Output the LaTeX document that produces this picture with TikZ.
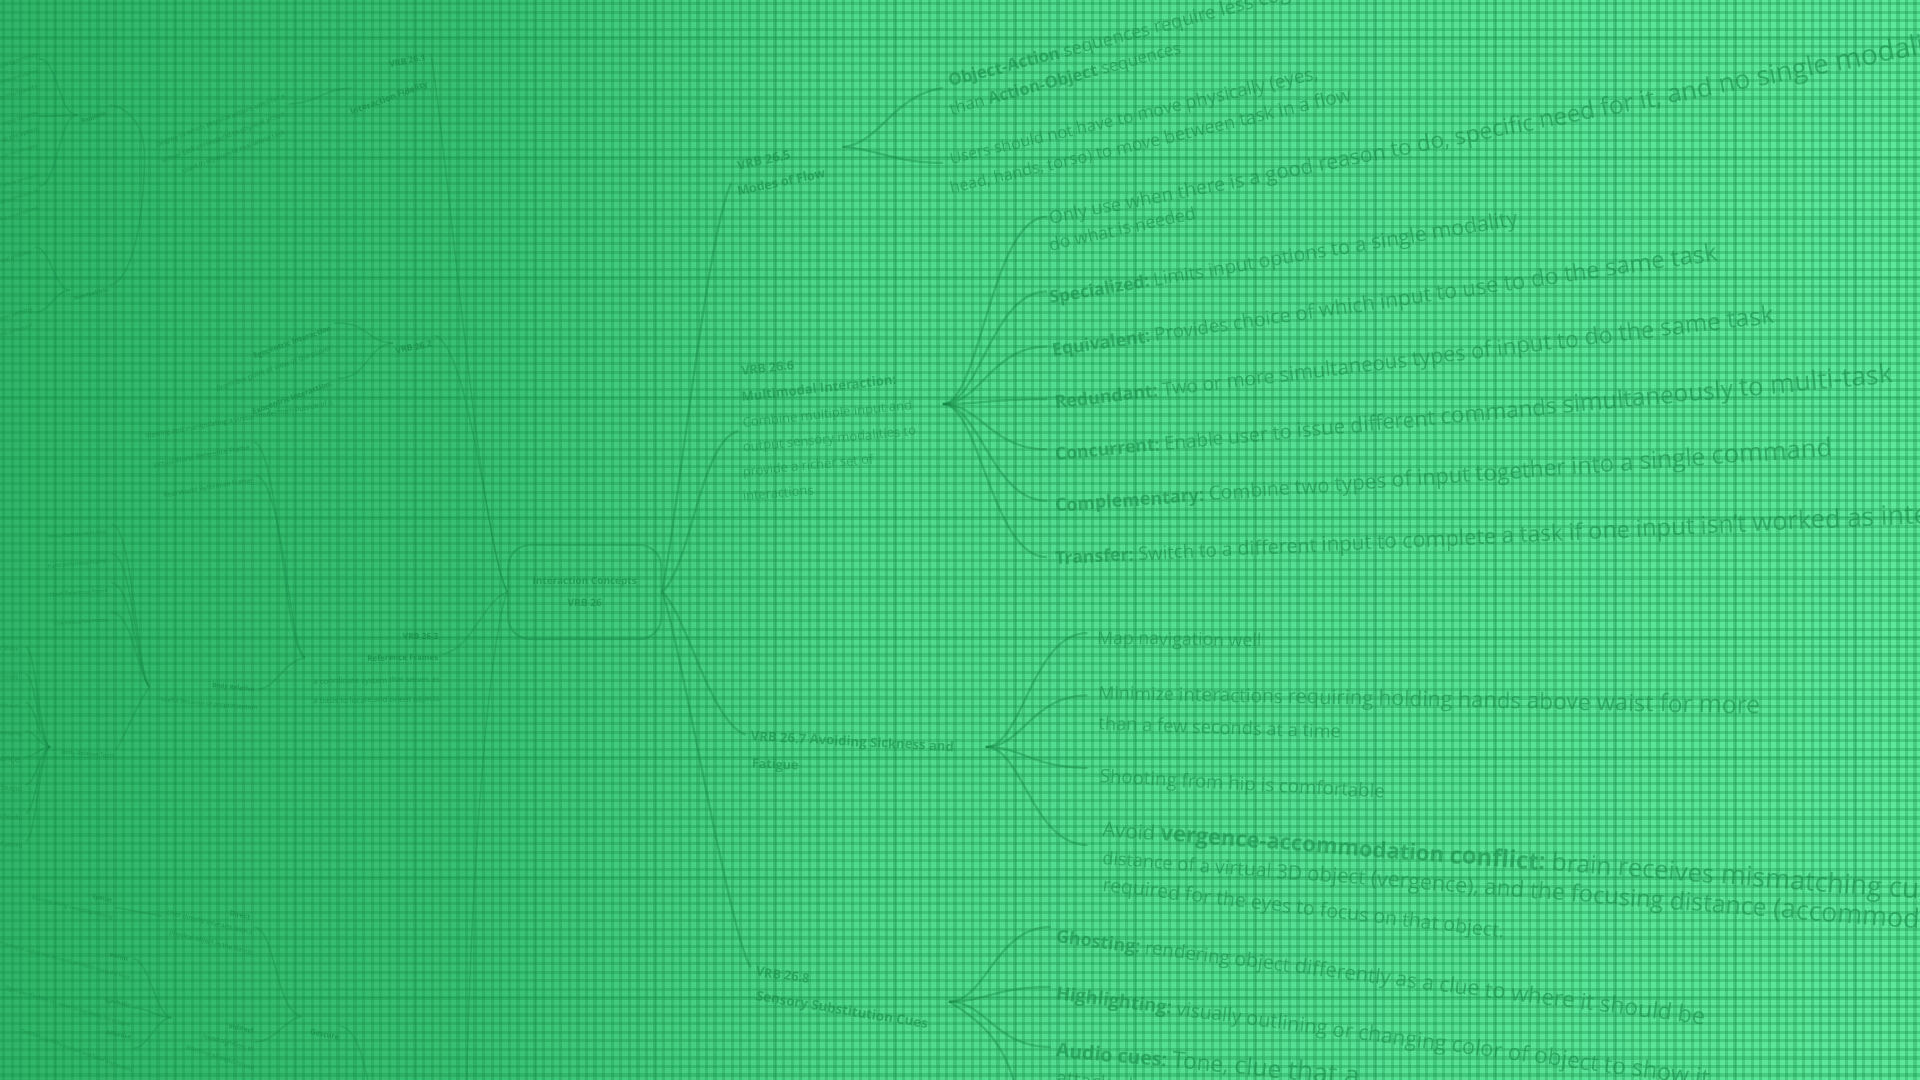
\documentclass[tikz,border=0pt]{standalone}
\usepackage{fontspec}
\setmainfont{Open Sans}
\usepackage{graphicx}
\definecolor{tcol}{RGB}{22,138,72}
\definecolor{gcol}{RGB}{20,140,72}
\definecolor{bga}{RGB}{49,182,105}
\definecolor{bgb}{RGB}{56,192,114}
\definecolor{bgc}{RGB}{81,218,141}
\definecolor{bgd}{RGB}{93,231,155}
\newlength{\unitpx}\setlength{\unitpx}{0.5pt}
\newdimen\pwidd \newdimen\palld \newdimen\pcumd
\newcommand{\rtx}[6][tx]{\node[#1,rotate=#4,anchor=base west] (#2) at (#3) {\resizebox{#5\unitpx}{!}{#6}};}
\newcommand{\ltx}[6][txl]{\node[#1,rotate=#4,anchor=base east] (#2) at (#3) {\resizebox{#5\unitpx}{!}{#6}};}
% line whose words grow steadily (perspective): style, name, start, angle, length, growth ratio, words
\newcommand{\pline}[7][tx]{%
  \pgfinterruptpicture
  \global\palld=0pt
  \foreach \w [count=\i] in {#7}{\settowidth{\pwidd}{\normalfont\w\ }\expandafter\xdef\csname pw@\i\endcsname{\the\pwidd}\global\advance\palld by \pwidd}%
  \endpgfinterruptpicture
  \pgfmathsetmacro{\pzero}{(#5*0.5)/(\the\palld)/(((#6)-1)/ln(#6))}%
  \global\pcumd=0pt
  \foreach \w [count=\i] in {#7}{%
    \pwidd=\csname pw@\i\endcsname\relax
    \pgfmathsetmacro{\psc}{\pzero*pow(#6,(\the\pcumd+0.5*\the\pwidd)/(\the\palld))}%
    \ifnum\i=1
      \node[#1,rotate=#4,anchor=base west] (#2-\i) at (#3) {\scalebox{\psc}{\w\ }};%
    \else
      \pgfmathtruncatemacro{\pj}{\i-1}%
      \node[#1,rotate=#4,anchor=base west] (#2-\i) at (#2-\pj.base east) {\scalebox{\psc}{\w\ }};%
    \fi
    \global\advance\pcumd by \pwidd
  }%
}
\begin{document}
\begin{tikzpicture}[x=0.5pt,y=-0.5pt,
  tx/.style={inner sep=0pt,outer sep=0pt,text=tcol,text opacity=.56},
  txl/.style={inner sep=0pt,outer sep=0pt,text=tcol,text opacity=.7},
  conn/.style={draw=tcol,draw opacity=.42,line width=.9pt},
  connl/.style={draw=tcol,draw opacity=.36,line width=.6pt},
  gridl/.style={draw=gcol,draw opacity=.3,line width=1.35pt},
  majl/.style={draw=gcol,draw opacity=.3,line width=.4pt}]
\useasboundingbox (0,0) rectangle (1568,882);
\clip (0,0) rectangle (1568,882);
% background
\shade[left color=bga,right color=bgb] (0,0) rectangle (381,882);
\shade[left color=bgb,right color=bgc] (380,0) rectangle (701,882);
\shade[left color=bgc,right color=bgd] (700,0) rectangle (1568,882);
% grid
\foreach \x in {3,10,...,1568} \draw[gridl] (\x,0) -- (\x,882);
\foreach \y in {3,10,...,882} \draw[gridl] (0,\y) -- (1568,\y);
\foreach \x in {45,143,...,1568} \draw[majl] (\x,0) -- (\x,882);
\foreach \y in {31,129,...,882} \draw[majl] (0,\y) -- (1568,\y);

% ---------- centre ----------
\node[draw=tcol,draw opacity=.4,line width=.8pt,rounded corners=9pt,minimum width=62.5pt,minimum height=38.5pt,inner sep=0pt,align=center,text=tcol,text opacity=.62,font=\fontsize{6}{9}\selectfont] (cc) at (477.5,483.5) {\resizebox{42.5pt}{!}{\textbf{Interaction Concepts}}\\\resizebox{14pt}{!}{\textbf{VRB 26}}};

% ---------- right side texts ----------
\rtx{t5a}{603,139}{12}{44}{\textbf{VRB 26.5}}
\rtx{t5b}{603,160}{12}{73}{\textbf{Modes of Flow}}
\pline{ta1}{776,71}{14.5}{372}{1.3}{\textbf{Object-Action},sequences,require,less,cognitive,load}
\rtx{ta2}{777,94}{15}{195}{than \textbf{Action-Object} sequences}
\pline{tb1}{777,134}{13}{312}{1.25}{Users,should,not,have,to,move,physically,{(eyes,}}
\pline{tb2}{777,158}{13}{340}{1.25}{{head,},{hands,},torso),to,move,between,task,in,a,flow}

\rtx{t6a}{606,307}{7}{43}{\textbf{VRB 26.6}}
\rtx{t6b}{606,328}{6.5}{127}{\textbf{Multimodal Interaction:}}
\rtx{t6c}{607,349}{6}{139}{Combine multiple input and}
\rtx{t6d}{607,369}{5.5}{142}{output sensory modalities to}
\rtx{t6e}{607,389}{5.5}{107}{provide a richer set of}
\rtx{t6f}{607,409}{5}{58}{interactions}

\pline{tc1}{858,183}{11}{800}{1.7}{Only,use,when,there,is,a,good,reason,to,{do,},specific,need,for,{it,},and,no,single,modality,can}
\rtx{tc2}{858,205}{12.5}{122}{do what is needed}
\pline{td}{858,248}{9.5}{392}{1.3}{\textbf{Specialized:},Limits,input,options,to,a,single,modality}
\pline{te}{860,291}{8.2}{554}{1.45}{\textbf{Equivalent:},Provides,choice,of,which,input,to,use,to,do,the,same,task}
\pline{tf}{862,334}{6.8}{597}{1.45}{\textbf{Redundant:},Two,or,more,simultaneous,types,of,input,to,do,the,same,task}
\pline{tg}{862,376}{5.3}{693}{1.6}{\textbf{Concurrent:},Enable,user,to,issue,different,commands,simultaneously,to,multi-task}
\pline{th}{862,418}{4.1}{642}{1.55}{\textbf{Complementary:},Combine,two,types,of,input,together,into,a,single,command}
\pline{ti}{862,461}{2.7}{773}{1.6}{\textbf{Transfer:},Switch,to,a,different,input,to,complete,a,task,if,one,input,isn't,worked,as,intended}

\rtx{t7a}{613,605}{-3}{166}{\textbf{VRB 26.7 Avoiding Sickness and}}
\rtx{t7b}{614,627}{-3}{38}{\textbf{Fatigue}}
\rtx{tj}{896,526}{-1}{134}{Map navigation well}
\pline{tk1}{897,571}{-1.3}{546}{1.45}{Minimize,interactions,requiring,holding,hands,above,waist,for,more}
\rtx{tk2}{897,596}{-2}{198}{than a few seconds at a time}
\rtx{tl}{898,639}{-3.2}{233}{Shooting from hip is comfortable}
\pline{tm1}{900,683}{-4.4}{844}{1.5}{Avoid,\textbf{vergence-accommodation},\textbf{conflict:},brain,receives,mismatching,cues,between,the}
\pline{tm2}{900,706}{-4.5}{734}{1.6}{distance,of,a,virtual,3D,object,{(vergence),},and,the,focusing,distance,(accommodation)}
\rtx{tm3}{900,728}{-6.6}{330}{required for the eyes to focus on that object.}

\rtx{t8a}{617,797}{-8}{44}{\textbf{VRB 26.8}}
\rtx{t8b}{617,817}{-9.3}{142}{\textbf{Sensory Substitution Cues}}
\pline{tn}{862,770}{-7.2}{539}{1.35}{\textbf{Ghosting:},rendering,object,differently,as,a,clue,to,where,it,should,be}
\pline{to}{862,816}{-7.6}{543}{1.35}{\textbf{Highlighting:},visually,outlining,or,changing,color,of,object,to,show,it}
\pline{tp1}{862,863}{-5.5}{255}{1.6}{\textbf{Audio cues:},{Tone,},clue,that,a}
\rtx{tp2}{862,886}{-5.5}{63}{attacked}

% ---------- right connectors ----------
\coordinate (c5) at (597,150);
\coordinate (c6) at (603,352);
\coordinate (c7) at (609,600);
\coordinate (c8) at (613,790);
\draw[conn] (cc.east) .. controls (556,400) and (578,190) .. (c5);
\draw[conn] (cc.east) .. controls (565,460) and (572,360) .. (c6);
\draw[conn] (cc.east) .. controls (560,500) and (580,590) .. (c7);
\draw[conn] (cc.east) .. controls (555,520) and (595,760) .. (c8);

\coordinate (h5) at (688,120);
\coordinate (e5a) at (770,72);
\coordinate (e5b) at (770,133);
\draw[conn] (h5) .. controls +(30,-2) and +(-40,5) .. (e5a);
\draw[conn] (h5) .. controls +(30,2) and +(-40,0) .. (e5b);

\coordinate (h6) at (770,330);
\foreach \n/\y in {a/177,b/238,c/283,d/326,e/367,f/409,g/455}{
  \coordinate (e6\n) at (855,\y);
  \draw[conn] (h6) .. controls +(30,0) and +(-45,0) .. (e6\n);
}
\coordinate (h7) at (805,610);
\foreach \n/\y in {a/517,b/568,c/627,d/690}{
  \coordinate (e7\n) at (888,\y);
  \draw[conn] (h7) .. controls +(30,0) and +(-45,0) .. (e7\n);
}
\coordinate (h8) at (775,818);
\foreach \n/\y in {a/757,b/806,c/855}{
  \coordinate (e8\n) at (858,\y);
  \draw[conn] (h8) .. controls +(30,0) and +(-45,0) .. (e8\n);
}
\coordinate (e8d) at (830,890);
\draw[conn] (h8) .. controls +(25,15) and +(-10,-40) .. (e8d);

% ---------- left side texts ----------
\ltx{l1a}{348,49}{12}{30}{\textbf{VRB 26.1}}
\ltx{l1b}{350,71}{20}{67}{\textbf{Interaction Fidelity}}
\ltx{ld1}{233,80}{21}{112}{Degree to which physical actions used for a}
\ltx{ld2}{233,95}{21}{107}{virtual task correspond to physical action}
\ltx{ld3}{233,110}{21}{89}{used in equivalent real-world task}
\ltx{lr}{87,94}{20}{21}{\textbf{Realistic}}
\ltx{lnr}{88,238}{15}{28}{\textbf{Non-realistic}}
\ltx{f1}{31,46}{18}{33}{ical Symmetry}
\ltx{f2}{31,59}{18}{32}{ation and aligned}
\ltx{f3}{31,72}{18}{32}{ty incorporates}
\ltx{f4}{31,94}{18}{30}{Input Veracity}
\ltx{f5}{31,107}{18}{30}{at the speed}
\ltx{f6}{31,120}{18}{31}{d as done in reality}
\ltx{f7}{32,144}{18}{33}{Control Symmetry}
\ltx{f8}{32,157}{18}{33}{all interaction in}
\ltx{f9}{32,171}{18}{33}{the equal real task}
\ltx{f10}{26,207}{18}{26}{ical abilities}
\ltx{f11}{27,254}{18}{28}{hen sensing}
\ltx{f12}{27,267}{18}{28}{the same task}

\ltx{l2}{353,283}{12}{30}{\textbf{VRB 26.2}}
\ltx{lego}{271,270}{20}{67}{\textbf{Egocentric Interaction}}
\ltx{lego2}{271,286}{20}{99}{From the point of view of the player}
\ltx{lexo}{272,315}{20}{69}{\textbf{Exocentric Interaction:}}
\ltx{lexo2}{272,331}{10}{155}{Viewing and manipulating a virtual model from outside of it}

\ltx{l3a}{358,522}{1}{29}{\textbf{VRB 26.3}}
\ltx{l3b}{358,539}{1}{58}{\textbf{Reference Frames}}
\ltx{l3c}{359,557}{1}{103}{a coordinate system that serves as}
\ltx{l3d}{359,573}{1}{103}{a basis to locate and orient objects}
\ltx{lvw}{204,367}{11}{80}{Virtual World Reference Frame}
\ltx{lrw}{206,394}{10}{73}{Real World Reference Frame}
\ltx{lbr}{208,565}{-6}{35}{\textbf{Body Relative}}
\ltx{lbr2}{210,580}{-5}{79}{useful because of proprioception}
\ltx{ltor}{87,436}{5}{48}{Torso Reference Frame}
\ltx{lhan}{87,460}{5}{48}{Hand Reference Frame}
\ltx{lhea}{88,484}{4}{47}{Head Reference Frame}
\ltx{leye}{88,508}{4}{43}{Eye Reference Frame}
\ltx{ltools}{93,619}{-4}{43}{Body-Relative Tools}
\ltx{g1}{15,532}{-3}{15}{l Static}
\ltx{g2}{15,555}{-3}{15}{conds}
\ltx{g3}{16,578}{-3}{16}{ever each}
\ltx{g4}{18,601}{-3}{18}{e playing}
\ltx{g5}{16,623}{-5}{16}{ance}
\ltx{g6}{18,647}{-5}{18}{Studio}
\ltx{g7}{18,670}{-5}{18}{t Studio}
\ltx{g8}{18,693}{-5}{18}{Canvas}

\ltx{lsp}{91,737}{-12}{16}{\textbf{Spatial}}
\ltx{lsp2}{92,751}{-14}{68}{Pointing along sweeping sensing}
\ltx{lpa}{105,785}{-12}{16}{\textbf{Pathic}}
\ltx{lpa2}{106,800}{-15}{110}{Pointing or calling out elements of objects using the body}
\ltx{lsy}{106,823}{-12}{21}{\textbf{Symbolic}}
\ltx{lsy2}{106,839}{-17}{107}{Signs like thumbs up, wave to say hello, hand signs}
\ltx{laf}{107,849}{-12}{21}{\textbf{Affective}}
\ltx{laf2}{108,876}{-20}{97}{Emotions by body posture and facial expressions}
\ltx{ldir}{204,751}{-10}{17}{\textbf{Direct}}
\ltx{ldir2}{206,764}{-14}{72}{User directly interacts with a}
\ltx{ldir3}{206,780}{-14}{70}{physical object in the hands}
\ltx{lind}{207,844}{-12}{21}{\textbf{Indirect}}
\ltx{lind2}{207,859}{-15}{43}{Need signifiers to}
\ltx{lind3}{207,874}{-17}{58}{learn/recall input to use}
\rtx[txl]{lges}{253,845}{-10}{24}{\textbf{Gesture}}

% ---------- left connectors ----------
\coordinate (v1r) at (352,44);
\coordinate (v2r) at (356,274);
\coordinate (v3r) at (362,534);
\coordinate (v4d) at (381,890);
\draw[connl] (cc.west) .. controls (392,440) and (368,150) .. (v1r);
\draw[connl] (cc.west) .. controls (398,450) and (385,290) .. (v2r);
\draw[connl] (cc.west) .. controls (395,490) and (385,530) .. (v3r);
\draw[connl] (cc.west) .. controls (400,520) and (385,700) .. (v4d);

\coordinate (v1l) at (287,72);
\coordinate (d1r) at (236,85);
\draw[connl] (d1r) .. controls (260,84) and (265,72) .. (v1l);
\coordinate (hR) at (118,127);
\coordinate (rR) at (89,86);
\coordinate (nR) at (90,233);
\draw[connl] (rR) .. controls (102,86) and (118,100) .. (hR);
\draw[connl] (hR) .. controls (118,170) and (110,228) .. (nR);
\coordinate (rL) at (63,94);
\foreach \n/\y in {a/48,b/95,c/152}{
  \coordinate (fr\n) at (32,\y);
  \draw[connl] (fr\n) .. controls +(15,0) and +(-15,0) .. (rL);
}
\coordinate (nL) at (57,237);
\foreach \n/\y in {a/202,b/255}{
  \coordinate (fn\n) at (29,\y);
  \draw[connl] (fn\n) .. controls +(12,0) and +(-12,0) .. (nL);
}
\coordinate (v2l) at (321,280);
\coordinate (egr) at (273,264);
\coordinate (exr) at (276,309);
\draw[connl] (egr) .. controls (300,262) and (300,280) .. (v2l);
\draw[connl] (exr) .. controls (300,309) and (300,282) .. (v2l);

\coordinate (h3) at (249,537);
\coordinate (vwr) at (208,361);
\coordinate (rwr) at (209,388);
\coordinate (brr) at (211,563);
\draw[connl] (h3) .. controls (232,530) and (228,370) .. (vwr);
\draw[connl] (h3) .. controls (236,530) and (232,395) .. (rwr);
\draw[connl] (h3) .. controls (232,540) and (225,562) .. (brr);
\coordinate (hb) at (122,561);
\foreach \n/\y in {a/428,b/452,c/476,d/500}{
  \coordinate (fb\n) at (91,\y);
  \draw[connl] (hb) .. controls (112,550) and (108,\y) .. (fb\n);
}
\coordinate (tlr) at (95,612);
\draw[connl] (hb) .. controls (112,575) and (100,605) .. (tlr);
\coordinate (htl) at (41,610);
\foreach \n/\y in {a/528,b/551,c/574,d/597,e/618,f/641,g/664,h/687}{
  \coordinate (ft\n) at (21,\y);
  \draw[connl] (htl) .. controls +(-8,0) and +(8,0) .. (ft\n);
}
\coordinate (hg) at (246,830);
\coordinate (dirr) at (208,757);
\coordinate (indr) at (208,851);
\draw[connl] (hg) .. controls (225,825) and (225,760) .. (dirr);
\draw[connl] (hg) .. controls (230,835) and (225,850) .. (indr);
\coordinate (gesr) at (278,838);
\coordinate (gesd) at (302,890);
\draw[connl] (gesr) .. controls (290,840) and (296,860) .. (gesd);
\coordinate (hi) at (140,831);
\foreach \n/\y in {a/783,b/823,c/856}{
  \coordinate (fi\n) at (109,\y);
  \draw[connl] (hi) .. controls +(-12,0) and +(12,0) .. (fi\n);
}
\coordinate (spr) at (94,741);
\coordinate (dirl) at (132,748);
\draw[connl] (spr) -- (dirl);
\end{tikzpicture}
\end{document}
